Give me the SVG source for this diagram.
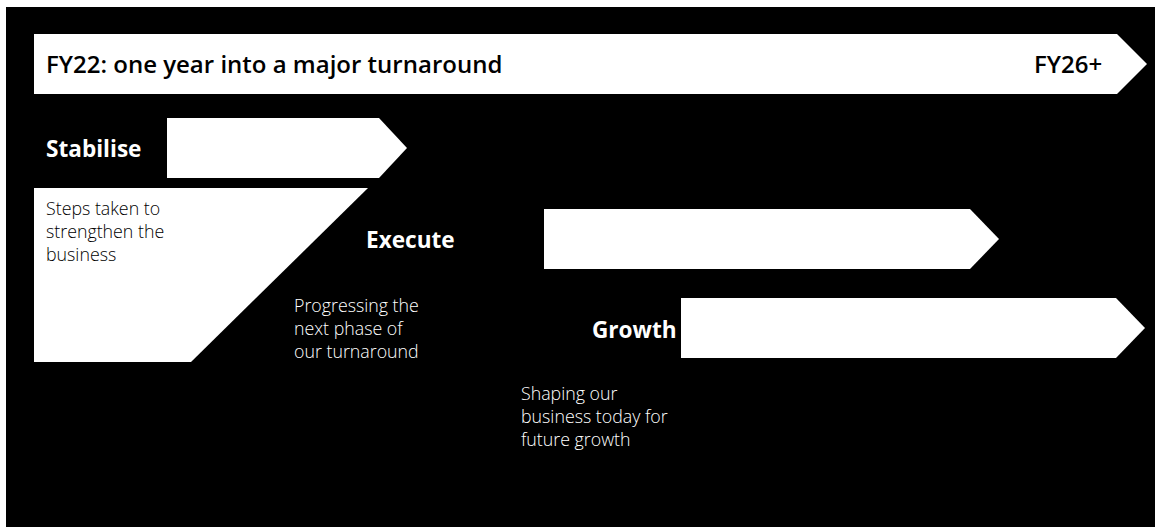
<svg xmlns="http://www.w3.org/2000/svg" width="1155" height="527" viewBox="0 0 1155 527">
<style>
.shape{fill:#ffffff}
.hd{font-family:"Open Sans","Liberation Sans",sans-serif;font-weight:600;font-size:24px;fill:#000}
.ph{font-family:"Open Sans","Liberation Sans",sans-serif;font-weight:700;font-size:22.6px;fill:#fff}
.ds{font-family:"Open Sans","Liberation Sans",sans-serif;font-weight:300;font-size:17.8px}
.dk{fill:#000}
.lt{fill:#fff}
</style>
<rect x="0" y="0" width="1155" height="527" fill="#ffffff"/>
<rect x="6" y="7" width="1149" height="520" fill="#000000"/>
<g id="timeline">
<polygon class="shape" points="34,34 1117,34 1147,64 1117,94 34,94"/>
<text class="hd" x="46" y="73">FY22: one year into a major turnaround</text>
<text class="hd" x="1034" y="73">FY26+</text>
</g>
<g id="stabilise">
<polygon class="shape" points="167,118 379,118 407,148 379,178 167,178"/>
<text class="ph" x="46" y="157">Stabilise</text>
<polygon class="shape" points="34,188 368,188 191,362 34,362"/>
<text class="ds dk" x="46" y="215">Steps taken to</text>
<text class="ds dk" x="46" y="238">strengthen the</text>
<text class="ds dk" x="46" y="261">business</text>
</g>
<g id="execute">
<polygon class="shape" points="544,209 970,209 999,239 970,269 544,269"/>
<text class="ph" x="366" y="248">Execute</text>
<text class="ds lt" x="294" y="312">Progressing the</text>
<text class="ds lt" x="294" y="335">next phase of</text>
<text class="ds lt" x="294" y="358">our turnaround</text>
</g>
<g id="growth">
<polygon class="shape" points="681,298 1116,298 1145,328 1116,358 681,358"/>
<text class="ph" x="592" y="338">Growth</text>
<text class="ds lt" x="521" y="400">Shaping our</text>
<text class="ds lt" x="521" y="423">business today for</text>
<text class="ds lt" x="521" y="446">future growth</text>
</g>
</svg>
